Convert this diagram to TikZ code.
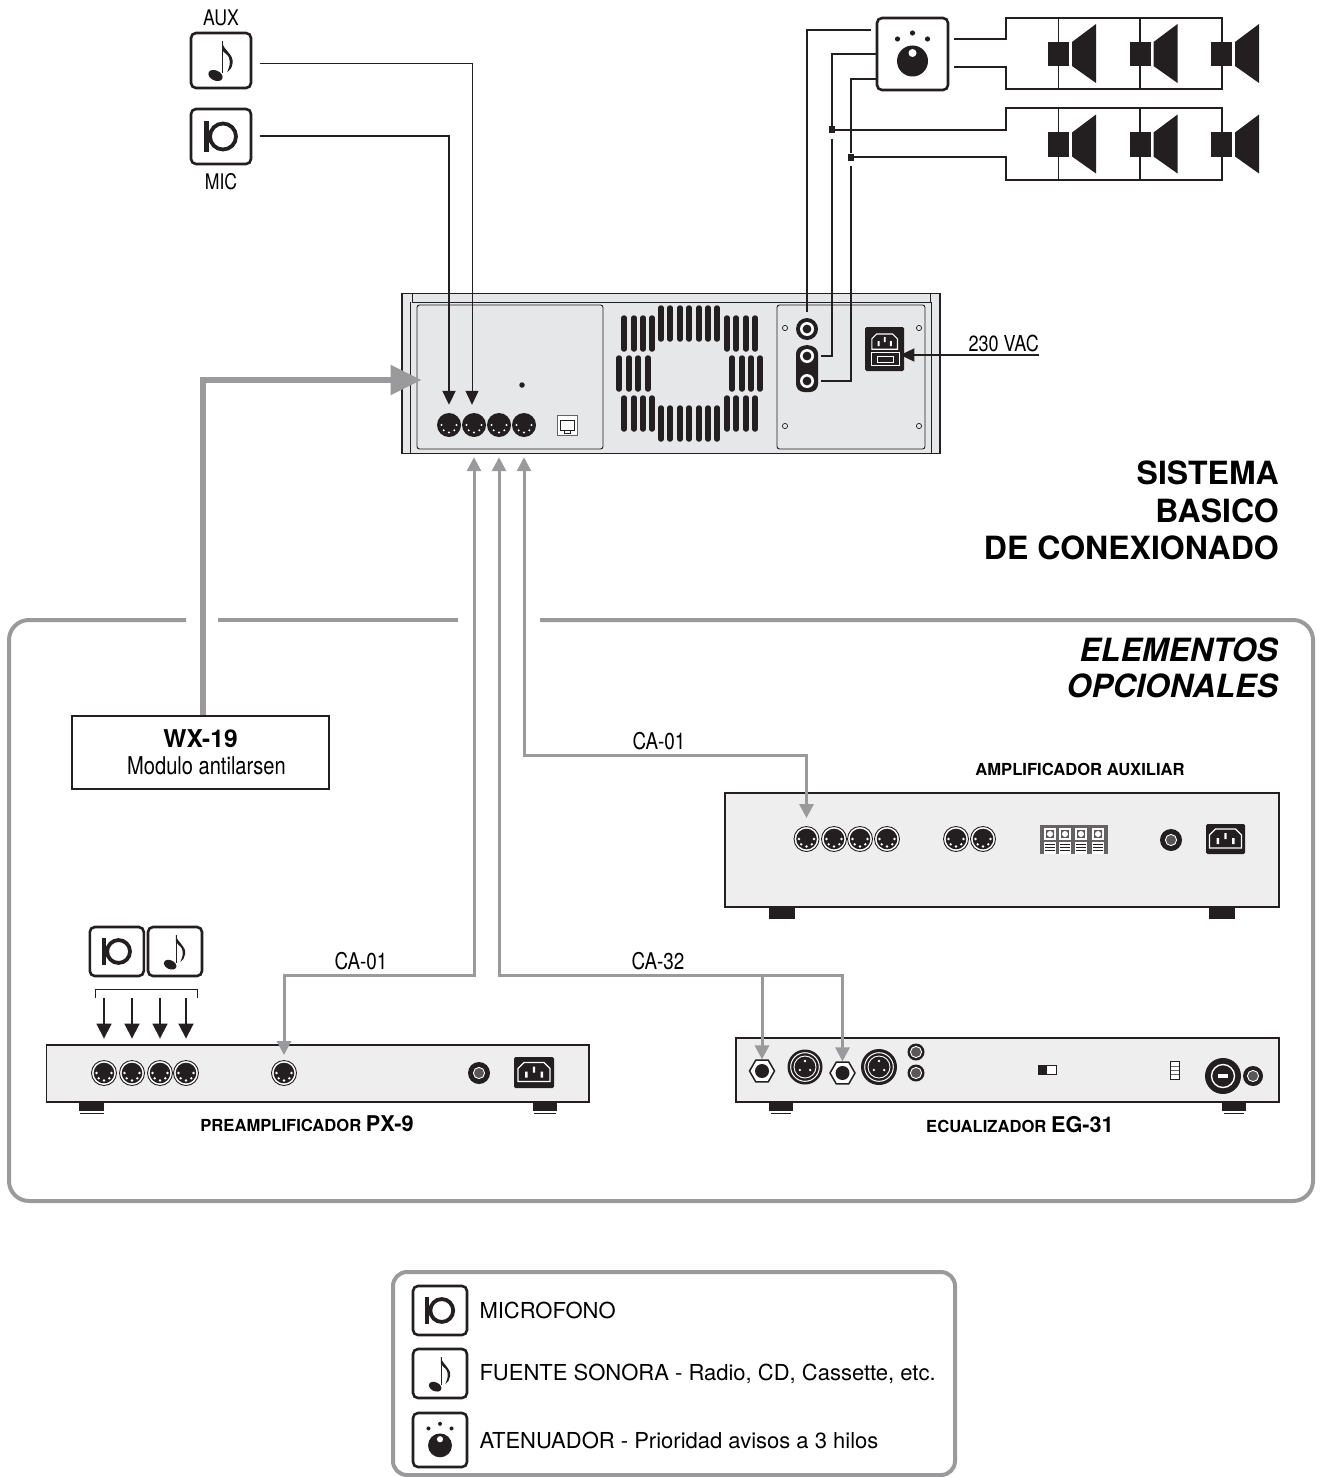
\documentclass[tikz,border=0pt]{standalone}
\usepackage{fontspec}
\setmainfont{TeX Gyre Heros}
\newfontfamily\narrowfont[FakeStretch=0.82]{TeX Gyre Heros}
\usetikzlibrary{positioning,arrows.meta,shapes.geometric}

\definecolor{ink}{HTML}{231F20}
\definecolor{cablegrey}{HTML}{9A9A9C}
\definecolor{mainfill}{HTML}{E6E7E8}
\definecolor{boxfill}{HTML}{EEEEEF}

\newcommand{\pbb}{path picture bounding box.center}

\tikzset{
  blacktip/.style={-{Triangle[length=14pt,width=13pt]}},
  greytip/.style={{Triangle[length=14pt,width=14pt]}-{Triangle[length=14pt,width=14pt]}},
  wire/.style={draw=ink, line width=2pt},
  cable/.style={draw=cablegrey, line width=3pt},
  frameline/.style={draw=cablegrey, line width=4pt},
  slot/.style={draw=ink, line width=5.5pt, line cap=round},
  iconbox/.style={draw=ink, fill=white, line width=2.6pt, rounded corners=5pt, inner sep=0pt},
  device/.style={draw=ink, fill=boxfill, line width=1.4pt, inner sep=0pt},
  foot/.style={fill=ink, inner sep=0pt},
  din/.style={circle, fill=ink, inner sep=0pt, minimum size=24pt, path picture={
    \foreach \a in {0,45,...,180} \fill[white] ([shift={(\a:7.5)}]\pbb) circle (1.1);}},
  dinring/.style={circle, draw=ink, fill=white, line width=.9pt, inner sep=0pt, minimum size=25pt, path picture={
    \fill[ink] (\pbb) circle (10.3);
    \foreach \a in {0,45,...,180} \fill[white] ([shift={(\a:7.5)}]\pbb) circle (1.3);}},
  jack/.style={circle, fill=ink, inner sep=0pt, minimum size=22pt, path picture={
    \fill[white] (\pbb) circle (7); \fill[ink] (\pbb) circle (4.4);}},
  jackdark/.style={circle, fill=ink, inner sep=0pt, minimum size=#1, path picture={
    \draw[white, line width=.9pt, fill=ink!75] (\pbb) circle (5.6);}},
  hexjack/.style={regular polygon, regular polygon sides=6, draw=ink, fill=white, line width=1.5pt, inner sep=0pt, minimum size=25pt, path picture={
    \fill[ink] (\pbb) circle (7);}},
  xlr/.style={circle, fill=ink, inner sep=0pt, minimum size=#1, path picture={
    \draw[white, line width=1pt] (\pbb) circle (14.3);
    \draw[white, line width=.9pt] (\pbb) circle (11);
    \foreach \a in {30,150,270} \fill[white] ([shift={(\a:6)}]\pbb) circle (1.3);}},
  iec/.style={fill=ink, rounded corners=1.5pt, inner sep=0pt},
  title/.style={font=\fontsize{32}{37.5}\selectfont\bfseries, align=right, inner sep=0pt},
  cablelabel/.style={font=\narrowfont\fontsize{23}{27}\selectfont, inner sep=5pt},
  sourcelabel/.style={font=\narrowfont\fontsize{21.5}{25}\selectfont, inner sep=0pt},
  devtitle/.style={font=\fontsize{16.6}{20}\selectfont\bfseries, inner sep=0pt},
  legendtext/.style={font=\fontsize{22}{26}\selectfont, inner sep=0pt},
  noteglyph/.pic={
    \fill[ink] (.6,-19) rectangle (2,13);
    \fill[ink, rotate around={-25:(-5.5,15)}] (-5.5,15) ellipse (7.5 and 5);
    \fill[ink] (1,-19) .. controls (2,-10) and (13,-7) .. (11.5,3) .. controls (11,7) and (9,10) .. (6,12) .. controls (8,7) and (10,3) .. (8,-3) .. controls (6,-7) and (2,-8) .. (1,-11) -- cycle;
  },
  micglyph/.pic={
    \fill[ink] (-17,-15) rectangle (-12,15);
    \draw[ink, line width=3.8pt] (2,0) circle (13);
  },
  knobglyph/.pic={
    \foreach \x/\y in {-15/-15,0/-21,15/-15} \fill[ink] (\x,\y) circle (2.6);
    \fill[ink] (0,7) circle (15.5);
    \fill[white] (0,-1) circle (4);
  },
  speaker/.pic={
    \fill[ink] (-10.5,-12) rectangle (10.5,12);
    \fill[ink] (13.5,-12) -- (37.5,-30) -- (37.5,29) -- (13.5,12) -- cycle;
  },
  iecface/.pic={
    \draw[white, line width=1.1pt] (-16,9) -- (-16,-4) -- (-10,-10) -- (10,-10) -- (16,-4) -- (16,9) -- cycle;
    \fill[white] (-9,-1) rectangle (-6.5,5) (-1.2,-6) rectangle (1.2,0) (6.5,-1) rectangle (9,5);
  },
}

\begin{document}
\begin{tikzpicture}[x=1pt, y=-1pt, line join=miter]
\useasboundingbox (0,0) rectangle (1324,1477);

% power amplifier
\node[draw=ink, fill=mainfill, line width=1.2pt, inner sep=0pt, minimum width=538pt, minimum height=160pt] (mainunit) at (671,373.5) {};
\draw[ink, line width=.7pt] (410,302) -- (410,453) (931,302) -- (931,453) (412,294) -- (412,302) -- (930,302) -- (930,294);
\node[draw=ink, line width=.9pt, rounded corners=2.5pt, inner sep=0pt, minimum width=186pt, minimum height=144pt] (inpanel) at (510,377) {};
\node[draw=ink, line width=.9pt, rounded corners=2.5pt, inner sep=0pt, minimum width=148pt, minimum height=144pt] (outpanel) at (851,377) {};
\node[din] (din1) at (449,425) {};
\node[din] (din2) at (474,425) {};
\node[din] (din3) at (499,425) {};
\node[din] (din4) at (524,425) {};
\node[circle, fill=ink, inner sep=0pt, minimum size=5.5pt] (led) at (522,385) {};
\node[draw=ink!70, fill=white, line width=1pt, inner sep=0pt, minimum size=20pt] (rj) at (567,425) {};
\draw[ink, line width=.8pt] (560,420) rectangle (574,430) (564,430) -- (564,433) -- (570,433) -- (570,430);
\foreach \x in {661,670,680,689,699,708,717} {
  \draw[slot] (\x,308) -- (\x,339);
  \draw[slot] (\x,408) -- (\x,439);
}
\foreach \x in {624,634,643,652,727,736,746,755} {
  \draw[slot] (\x,318) -- (\x,349);
  \draw[slot] (\x,398) -- (\x,429);
}
\foreach \x in {619,629,638,648,732,742,751,760} \draw[slot] (\x,358) -- (\x,389);
\foreach \x/\y in {785/328,919/328,785/426,919/426} \draw[ink, line width=.7pt] (\x,\y) circle (2.6);
\node[fill=ink, rounded corners=8pt, inner sep=0pt, minimum width=22pt, minimum height=46pt] (pill) at (807,369) {};
\node[jack] (jtop) at (807,329) {};
\node[jack] (jmid) at (807,356) {};
\node[jack] (jlow) at (807,381) {};
\node[iec, minimum width=39pt, minimum height=44pt] (mainiec) at (884.7,349) {};
\pic[scale=.8] at (884.7,342) {iecface};
\draw[white, line width=.9pt] (871,352) rectangle (899,365) (877,356) rectangle (893,362);

% attenuator and speaker lines
\node[iconbox, minimum width=71pt, minimum height=72pt] (atten) at (912.5,54) {};
\pic at (atten) {knobglyph};
\node[inner sep=0pt, minimum width=216pt, minimum height=71pt] (lineA) at (1114,53.5) {};
\node[inner sep=0pt, minimum width=216pt, minimum height=72pt] (lineB) at (1114,144) {};
\node[fill=ink, inner sep=0pt, minimum width=6pt, minimum height=7pt] (tapA) at (832,130) {};
\node[fill=ink, inner sep=0pt, minimum width=6pt, minimum height=7pt] (tapB) at (851,157) {};
\foreach \l/\y in {lineA/54,lineB/144.5} {
  \foreach \x in {1058.5,1140,1221.5} {
    \draw[ink, line width=1.6pt] (\x,\y-36) -- (\x,\y+36);
    \pic at (\x,\y) {speaker};
  }
}
\path[wire, shorten <=5pt, shorten >=5pt]
(atten.east) ++(0,-15) edge[to path={-| (lineA.north west) -- (lineA.north east) -- (lineA.south east) -- (lineA.south west) |- (\tikztotarget)}] ([yshift=-13pt]atten.east);
\path[wire]
(tapA) edge[to path={-| (lineB.north west) -- (lineB.north east) -- (lineB.south east) -- (lineB.south west) |- (\tikztotarget)}] (tapB);
\draw[wire, shorten <=5pt, shorten >=6pt] ([yshift=24pt]atten.west) -| (jtop.north);
\draw[wire, shorten <=5pt, shorten >=3pt] (atten.west) -| (tapA) |- (jmid.east);
\draw[wire, shorten <=5pt, shorten >=3pt] ([yshift=-25pt]atten.west) -| (tapB) |- (jlow.east);

% input sources
\node[iconbox, minimum width=60pt, minimum height=55pt] (aux) at (221,60.5) {};
\pic at (aux) {noteglyph};
\node[iconbox, minimum width=60pt, minimum height=55pt] (mic) at (221,136.5) {};
\pic at (mic) {micglyph};
\node[sourcelabel, above=6pt of aux] (auxlabel) {AUX};
\node[sourcelabel, below=8pt of mic] (miclabel) {MIC};
\draw[draw=ink, line width=1pt, blacktip, shorten <=8pt, shorten >=8pt] ([yshift=-3.5pt]aux.east) -| ([xshift=-2pt]din2.north);
\draw[wire, blacktip, shorten <=8pt, shorten >=8pt] (mic.east) -| (din1.north);

\node[font=\narrowfont\fontsize{22}{26}\selectfont, anchor=south east, inner sep=0pt, inner ysep=3pt] (vac) at (1039,355) {230 VAC};
\draw[wire, blacktip, shorten >=-4pt] (vac.south east) -- (vac.south east -| mainiec.east);

\node[title, anchor=north east] (systitle) at (1279,461) {SISTEMA\\BASICO\\DE CONEXIONADO};

% optional units
\draw[frameline, rounded corners=20pt] (186,620) -- (9,620) -- (9,1201) -- (1313,1201) -- (1313,620) -- (540,620);
\draw[frameline] (218,620) -- (458,620);
\node[title, font=\fontsize{32}{36}\selectfont\bfseries\itshape, anchor=north east] (opttitle) at (1278,638) {ELEMENTOS\\OPCIONALES};

\node[draw=ink, fill=white, line width=1.4pt, align=center, inner sep=0pt, minimum width=257pt, minimum height=73pt, font=\fontsize{24.5}{27}\selectfont] (wx) at (200.5,752.5) {\textbf{WX-19}\\{\narrowfont\hspace{12pt}Modulo antilarsen}};
\draw[draw=cablegrey, line width=5.5pt, -{Triangle[length=31pt,width=29pt]}, shorten >=-5pt] ([xshift=2.5pt]wx.north) |- ([yshift=-3pt]inpanel.west);

% auxiliary amplifier
\node[device, minimum width=554pt, minimum height=114pt] (ampbox) at (1002,850) {};
\node[foot, minimum width=26pt, minimum height=12pt] (ampfootA) at (782,913) {};
\node[foot, minimum width=26pt, minimum height=12pt] (ampfootB) at (1222,913) {};
\node[dinring] (ampin1) at (806.5,839) {};
\foreach \x/\n in {834/ampin2,860/ampin3,887/ampin4,956/amplink1,983/amplink2} \node[dinring] (\n) at (\x,839) {};
\node[fill=ink!70, inner sep=0pt, minimum width=68pt, minimum height=29pt] (terminals) at (1074,839.5) {};
\foreach \x in {1050,1065,1081,1098} {
  \fill[white] (\x-6,828) rectangle (\x+6,840);
  \fill[ink!75] (\x-4,830) rectangle (\x+4,838);
  \fill[white] (\x,834) circle (3);
  \fill[white] (\x-6,842) rectangle (\x+6,854);
  \foreach \y in {844,847,850} \fill[ink] (\x-5,\y) rectangle (\x+5,\y+1.4);
}
\node[jackdark=22pt] (amppower) at (1171,840) {};
\node[iec, minimum width=39pt, minimum height=30pt] (ampiec) at (1225.5,839) {};
\pic at (ampiec) {iecface};
\node[devtitle] (amptitle) at (1080,769) {AMPLIFICADOR AUXILIAR};

% preamplifier
\node[device, minimum width=542.5pt, minimum height=57pt] (pxbox) at (317.7,1073.5) {};
\node[foot, minimum width=25pt, minimum height=9pt] (pxfootA) at (91.5,1106.5) {};
\node[foot, minimum width=24pt, minimum height=9pt] (pxfootB) at (545,1106.5) {};
\draw[ink, line width=1pt] (80,1113) -- (104,1113) (534,1113) -- (556,1113);
\foreach \x/\n in {104/pxin1,132/pxin2,160/pxin3,186/pxin4} {
  \node[dinring] (\n) at (\x,1073) {};
  \coordinate (\n top) at (\x,998);
  \draw[wire, line width=1.8pt, -{Triangle[length=15pt,width=15pt]}] (\n top) -- ([yshift=21.5pt]\n.north);
}
\node[dinring] (pxout) at (284,1073) {};
\node[jackdark=22pt] (pxpower) at (479,1073) {};
\node[iec, minimum width=40pt, minimum height=31pt] (pxiec) at (534,1072.5) {};
\pic at (pxiec) {iecface};
\node[iconbox, minimum width=54pt, minimum height=49pt] (pxmic) at (116.8,951.5) {};
\pic[scale=.88] at (pxmic) {micglyph};
\node[iconbox, minimum width=54pt, minimum height=49pt] (pxaux) at (175,951.5) {};
\pic[scale=.88] at (pxaux) {noteglyph};
\draw[ink, line width=.9pt] (95,998) -- (95,989) -- (197,989) -- (197,998);
\node[devtitle, anchor=center] (pxtitle) at (307,1124) {PREAMPLIFICADOR {\fontsize{21.7}{24}\selectfont PX-9}};

% equalizer
\node[device, minimum width=543pt, minimum height=64pt] (egbox) at (1007.5,1070) {};
\node[foot, minimum width=24pt, minimum height=9pt] (egfootA) at (781,1106.5) {};
\node[foot, minimum width=24pt, minimum height=9pt] (egfootB) at (1234,1106.5) {};
\draw[ink, line width=1pt] (771,1113) -- (791,1113) (1224,1113) -- (1244,1113);
\node[hexjack] (egjackA) at (762,1071) {};
\node[xlr=35pt] (egxlrA) at (805,1067) {};
\node[hexjack] (egjackB) at (842.5,1073) {};
\node[xlr=36pt] (egxlrB) at (879,1067) {};
\node[jackdark=17pt] (egrcaA) at (916,1052) {};
\node[jackdark=17pt] (egrcaB) at (916,1073) {};
\node[draw=ink, fill=white, line width=.8pt, inner sep=0pt, minimum width=18pt, minimum height=9pt] (egswitch) at (1047,1070) {};
\fill[ink] (1038,1065.5) rectangle (1047,1074.5);
\node[draw=ink, fill=white, line width=.8pt, inner sep=0pt, minimum width=9pt, minimum height=18pt] (egselect) at (1175,1070) {};
\draw[ink!70, line width=.7pt] (1171,1066) -- (1179,1066) (1171,1070) -- (1179,1070) (1171,1074) -- (1179,1074);
\node[circle, fill=ink, inner sep=0pt, minimum size=36pt] (egplug) at (1223,1076) {};
\draw[white, line width=1.4pt] (egplug) circle (11.5);
\fill[white] (1218,1074) rectangle (1228,1078);
\node[jackdark=20pt] (egpower) at (1253,1076) {};
\node[devtitle, anchor=center] (egtitle) at (1020,1125) {ECUALIZADOR {\fontsize{21.7}{24}\selectfont EG-31}};

% cables
\node[cablelabel, anchor=south] (caA) at (361,975) {CA-01};
\node[cablelabel, anchor=south] (caB) at (658,975) {CA-32};
\node[cablelabel, anchor=south] (caC) at (659,755) {CA-01};
\draw[cable, greytip, shorten <=20pt, shorten >=5pt] (din2.south) |- (caA.south) -| (pxout.north);
\draw[cable, greytip, shorten <=20pt, shorten >=0pt] (din3.south) |- (caB.south) -| (egjackB.north);
\draw[cable, greytip, shorten <=20pt, shorten >=8pt] (din4.south) |- (caC.south) -| (ampin1.north);
\draw[cable, -{Triangle[length=14pt,width=14pt]}] (caB.south -| egjackA.north) -- (egjackA.north);

% legend
\draw[frameline, rounded corners=14pt] (393,1272) rectangle (955,1475);
\node[iconbox, minimum width=54pt, minimum height=49pt] (legmic) at (440,1310.5) {};
\pic[scale=.88] at (legmic) {micglyph};
\node[iconbox, minimum width=54pt, minimum height=49pt] (legaux) at (440,1373.5) {};
\pic[scale=.88] at (legaux) {noteglyph};
\node[iconbox, minimum width=54pt, minimum height=54pt] (legatt) at (440,1440) {};
\pic[scale=.77] at (legatt) {knobglyph};
\node[legendtext, right=11pt of legmic] (legmictext) {MICROFONO};
\node[legendtext, right=11pt of legaux] (legauxtext) {FUENTE SONORA - Radio, CD, Cassette, etc.};
\node[legendtext, right=11pt of legatt] (legatttext) {ATENUADOR - Prioridad avisos a 3 hilos};
\end{tikzpicture}
\end{document}
